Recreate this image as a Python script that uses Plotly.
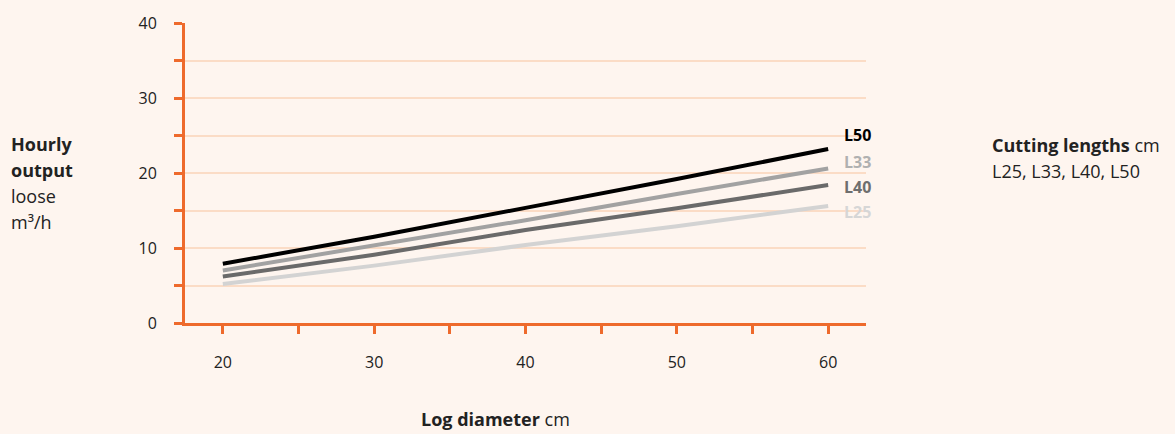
import plotly.graph_objects as go

diameters = [20, 30, 40, 50, 60]
L50 = [7.9, 11.5, 15.35, 19.2, 23.2]
L33 = [7.0, 10.3, 13.7, 17.2, 20.6]
L40 = [6.2, 9.1, 12.4, 15.3, 18.4]
L25 = [5.2, 7.65, 10.4, 12.9, 15.6]

series_names = ["L25", "L40", "L33", "L50"]
series_values = [L25, L40, L33, L50]
line_colors = ["#d3d3d3", "#6a6a6a", "#a2a2a2", "#000000"]
label_colors = ["#d6d6d6", "#6e6e6e", "#b0b0b0", "#000000"]
label_y = [14.8, 18.2, 21.5, 25.1]

x_tickvals = [20, 25, 30, 35, 40, 45, 50, 55, 60]
x_ticktext = ["20", "", "30", "", "40", "", "50", "", "60"]
y_tickvals = [0, 5, 10, 15, 20, 25, 30, 35, 40]
y_ticktext = ["0", "", "10", "", "20", "", "30", "", "40"]

BG = "#fef5ef"
ORANGE = "#ee6a2c"
GRID = "#fbdcc6"
TXT = "#222222"
FONT = "Open Sans"

fig = go.Figure()
for name, vals, col in zip(series_names, series_values, line_colors):
    fig.add_trace(go.Scatter(x=diameters, y=vals, mode="lines", name=name,
                             line=dict(color=col, width=4), hoverinfo="skip"))

for name, ly, col in zip(series_names, label_y, label_colors):
    fig.add_annotation(x=60.9, y=ly, xref="x", yref="y", text="<b>%s</b>" % name,
                       showarrow=False, xanchor="left", yanchor="middle",
                       font=dict(family=FONT, size=16, color=col))

L, R, T, B = 185, 309, 20, 111
W, H = 1175, 434
pw, ph = W - L - R, H - T - B


def px(x):
    return (x - L) / pw


def py(y):
    return (H - B - y) / ph


left_lines = ["<b>Hourly</b>", "<b>output</b>", "loose", "m³/h"]
left_y = [142, 168, 195, 221]
for t, yy in zip(left_lines, left_y):
    fig.add_annotation(x=px(9), y=py(yy), xref="paper", yref="paper", text=t,
                       showarrow=False, xanchor="left", yanchor="middle",
                       font=dict(family=FONT, size=18, color=TXT))

fig.add_annotation(x=px(990), y=py(143), xref="paper", yref="paper",
                   text="<b>Cutting lengths</b> cm", showarrow=False,
                   xanchor="left", yanchor="middle",
                   font=dict(family=FONT, size=18, color=TXT))
fig.add_annotation(x=px(990), y=py(169), xref="paper", yref="paper",
                   text="L25, L33, L40, L50", showarrow=False,
                   xanchor="left", yanchor="middle",
                   font=dict(family=FONT, size=18, color=TXT))
fig.add_annotation(x=px(495), y=py(420), xref="paper", yref="paper",
                   text="<b>Log diameter</b> cm", showarrow=False,
                   xanchor="center", yanchor="middle",
                   font=dict(family=FONT, size=18, color=TXT))

fig.update_layout(
    width=W, height=H, paper_bgcolor=BG, plot_bgcolor=BG,
    margin=dict(l=L, r=R, t=T, b=B), showlegend=False,
    font=dict(family=FONT, size=16, color=TXT),
    xaxis=dict(range=[17.5, 62.5], tickvals=x_tickvals, ticktext=x_ticktext,
               showgrid=False, zeroline=False, showline=True, linecolor=ORANGE,
               linewidth=3, ticks="outside", ticklen=8, tickwidth=3,
               tickcolor=ORANGE, ticklabelstandoff=15,
               tickfont=dict(family=FONT, size=16, color=TXT)),
    yaxis=dict(range=[0, 40], tickvals=y_tickvals, ticktext=y_ticktext,
               showgrid=True, gridcolor=GRID, gridwidth=1.5, zeroline=False,
               showline=True, linecolor=ORANGE, linewidth=3, ticks="outside",
               ticklen=8, tickwidth=3, tickcolor=ORANGE, ticklabelstandoff=14,
               tickfont=dict(family=FONT, size=16, color=TXT)),
)

fig.write_html("out.html", config={"displayModeBar": False},
               post_script="document.body.style.margin='0';"
                           "document.body.style.background='%s';" % BG)
